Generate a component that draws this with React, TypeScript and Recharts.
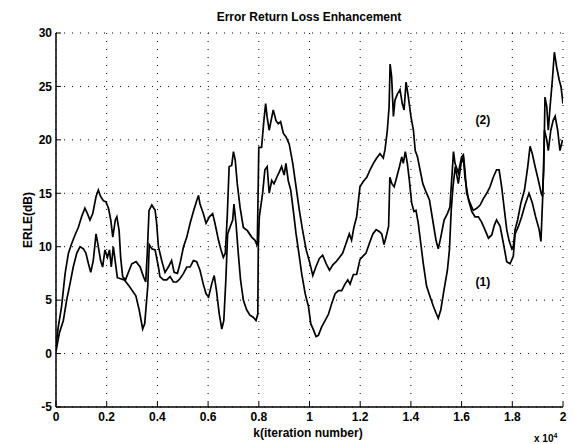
import { LineChart, Line, XAxis, YAxis, CartesianGrid, ReferenceDot } from "recharts";

// k in units of 10^4 iterations, ERLE in dB
const kA = [
  0, 0.009, 0.022, 0.036, 0.049, 0.062, 0.075, 0.088, 0.101, 0.114, 0.124, 0.134, 0.145, 0.158, 0.167, 0.176,
  0.187, 0.197, 0.207, 0.216, 0.224, 0.234, 0.24, 0.249, 0.255, 0.263, 0.274, 0.284, 0.299, 0.316, 0.332, 0.345,
  0.354, 0.36, 0.367, 0.378, 0.391, 0.397, 0.404, 0.417, 0.43, 0.443, 0.456, 0.466, 0.479, 0.489, 0.503, 0.516,
  0.529, 0.542, 0.555, 0.562, 0.568, 0.581, 0.592, 0.605, 0.618, 0.627, 0.641, 0.651, 0.66, 0.668, 0.676, 0.683,
  0.693, 0.7, 0.707, 0.715, 0.726, 0.739, 0.755, 0.772, 0.785, 0.794, 0.798, 0.8, 0.811, 0.82, 0.827, 0.833,
  0.841, 0.851, 0.857, 0.868, 0.877, 0.886, 0.897, 0.907, 0.92, 0.934, 0.947, 0.96, 0.973, 0.987, 1.0, 1.013,
  1.025, 1.039, 1.052, 1.066, 1.079, 1.092, 1.105, 1.118, 1.131, 1.144, 1.157, 1.166, 1.175, 1.186, 1.199, 1.212,
  1.226, 1.239, 1.252, 1.265, 1.278, 1.291, 1.298, 1.307, 1.314, 1.318, 1.324, 1.331, 1.337, 1.347, 1.357, 1.366,
  1.373, 1.381, 1.39, 1.4, 1.41, 1.417, 1.426, 1.436, 1.447, 1.46, 1.473, 1.486, 1.499, 1.508, 1.518, 1.531,
  1.544, 1.554, 1.561, 1.568, 1.574, 1.587, 1.6, 1.607, 1.613, 1.62, 1.633, 1.646, 1.66, 1.673, 1.686, 1.699,
  1.712, 1.725, 1.738, 1.748, 1.758, 1.769, 1.778, 1.787, 1.798, 1.804, 1.811, 1.821, 1.834, 1.848, 1.861, 1.87,
  1.879, 1.89, 1.903, 1.914, 1.919, 1.924, 1.929, 1.936, 1.942, 1.949, 1.958, 1.966, 1.975, 1.985, 1.992, 2.0,
];
const erleA = [
  0.8, 2.5, 4.4, 7.5, 9.4, 10.3, 11.1, 11.8, 12.8, 13.6, 13.1, 12.5, 13.1, 14.7, 15.3, 14.7,
  14.3, 14.2, 13.6, 12.5, 10.9, 12.5, 12.8, 11.5, 9, 7.2, 6.9, 7.5, 8.4, 8.6, 8.1, 7.2,
  6.7, 9.4, 13.4, 13.9, 13.4, 12.2, 10, 8.7, 7.6, 8.1, 8.7, 7.6, 7.5, 8.4, 10, 10.9,
  12.2, 13.3, 14.3, 14.8, 14, 13.1, 12.2, 12.8, 13.1, 12.2, 10.6, 9.7, 9, 9.4, 13.1, 17.5,
  17.6, 18.9, 18.1, 15.9, 13.7, 11.8, 11.5, 10.9, 10.6, 10.1, 16.2, 19.3, 19.3, 21.8, 23.4, 22.1,
  20.9, 22.1, 22.8, 21.8, 21.5, 21.7, 20.6, 20.3, 19.6, 17.8, 15.6, 13.4, 11.5, 9.7, 8.6, 7.3,
  8.1, 8.9, 9.2, 8.4, 7.8, 8.3, 8.6, 9, 9.4, 10.3, 11.2, 10.6, 11.8, 12.8, 15.6, 16.1,
  16.5, 17.2, 17.8, 18.3, 18.7, 18.3, 19.1, 20.9, 23.1, 27.1, 25.9, 22.2, 23.7, 24.3, 24.7, 23.4,
  22.8, 25.4, 24, 22.2, 20.9, 19, 18.4, 17.2, 15.9, 15.1, 14.4, 12.5, 10.6, 9.8, 10.9, 12.5,
  13.1, 13.7, 16.3, 18.9, 17.8, 16.9, 18.4, 18.6, 17.2, 15, 14.1, 13.4, 13.6, 13.9, 14.5, 15,
  15.6, 16.5, 17.2, 17.2, 15.6, 13.4, 11.6, 10.6, 9.8, 10, 11.6, 12.5, 14.1, 15.3, 17.5, 19.4,
  18.7, 17.5, 16.2, 15, 14.7, 17.2, 24, 23.1, 20.9, 23.1, 25.6, 28.2, 26.8, 25.6, 25, 23.4,
];

const kB = [
  0, 0.003, 0.013, 0.029, 0.042, 0.055, 0.068, 0.082, 0.095, 0.108, 0.118, 0.128, 0.137, 0.147, 0.158, 0.167,
  0.176, 0.184, 0.193, 0.203, 0.211, 0.218, 0.226, 0.235, 0.242, 0.269, 0.289, 0.315, 0.328, 0.342, 0.35, 0.362,
  0.368, 0.378, 0.391, 0.404, 0.41, 0.424, 0.437, 0.45, 0.463, 0.476, 0.489, 0.503, 0.516, 0.529, 0.542, 0.555,
  0.568, 0.581, 0.592, 0.602, 0.614, 0.624, 0.633, 0.644, 0.654, 0.662, 0.67, 0.677, 0.686, 0.697, 0.702, 0.71,
  0.719, 0.728, 0.739, 0.752, 0.765, 0.778, 0.789, 0.796, 0.798, 0.802, 0.815, 0.824, 0.833, 0.841, 0.851, 0.86,
  0.871, 0.881, 0.89, 0.9, 0.907, 0.916, 0.926, 0.936, 0.947, 0.958, 0.969, 0.983, 0.996, 1.005, 1.016, 1.026,
  1.035, 1.048, 1.062, 1.075, 1.088, 1.101, 1.114, 1.127, 1.14, 1.151, 1.16, 1.173, 1.186, 1.199, 1.21, 1.223,
  1.236, 1.25, 1.263, 1.276, 1.285, 1.294, 1.302, 1.312, 1.317, 1.325, 1.334, 1.344, 1.355, 1.364, 1.37, 1.378,
  1.386, 1.394, 1.403, 1.412, 1.42, 1.429, 1.439, 1.449, 1.462, 1.476, 1.489, 1.499, 1.508, 1.518, 1.531, 1.544,
  1.552, 1.559, 1.566, 1.575, 1.587, 1.598, 1.607, 1.613, 1.627, 1.64, 1.653, 1.666, 1.679, 1.692, 1.706, 1.719,
  1.729, 1.738, 1.752, 1.765, 1.778, 1.791, 1.804, 1.811, 1.824, 1.837, 1.85, 1.866, 1.879, 1.892, 1.906, 1.913,
  1.92, 1.927, 1.936, 1.942, 1.952, 1.961, 1.969, 1.979, 1.988, 1.998,
];
const erleB = [
  0.2, 0.6, 1.9, 3.1, 5, 6.5, 8.1, 9.4, 10, 9.8, 9.4, 8.4, 7.6, 8.7, 11.2, 10,
  8.7, 8.1, 9.7, 9, 9.7, 8.1, 10, 8.4, 7.1, 6.9, 6.3, 5.4, 4.1, 2.3, 2.8, 6.3,
  10.2, 9.8, 9.7, 8.1, 7.2, 6.9, 6.9, 7.2, 6.7, 6.7, 7, 7.5, 8.1, 8.1, 8.7, 8.6,
  7.8, 6.5, 5.6, 5.3, 6.5, 7.3, 5.9, 3.7, 2.3, 3.1, 6.9, 11.2, 11.8, 12.5, 14, 12.2,
  9.4, 6.9, 5, 4.1, 3.6, 3.4, 3.1, 3.7, 10, 12.8, 15, 17.2, 17.5, 15, 16.2, 15.9,
  16.5, 17, 17.5, 16.7, 17.8, 16.2, 15.3, 13.4, 11.2, 9.4, 7.5, 5.6, 4.4, 2.8, 2.2, 1.6,
  1.7, 2.5, 3.1, 3.7, 4.7, 5.6, 5.9, 5.9, 6.5, 6.9, 6.5, 7.4, 7.4, 8.8, 9.1, 9.4,
  10.3, 11.2, 11.6, 11.4, 11.2, 10.2, 10.9, 11.9, 16.5, 15.9, 15.6, 16.5, 17.5, 18.4, 17.8, 18.9,
  17.8, 16.2, 14.1, 13.3, 13.4, 12.2, 10.3, 8.4, 6.3, 5.3, 4.4, 3.8, 3.3, 4.1, 6, 7.8,
  9.7, 13.4, 15.6, 17.5, 15.9, 17.8, 18.4, 16.5, 14.4, 13.3, 12.8, 12.8, 12.3, 11.6, 10.8, 11.1,
  12, 12.5, 11.9, 10.3, 8.6, 8.4, 9.1, 11.2, 11.9, 12.8, 13.9, 15, 14.1, 12.8, 11.6, 10.5,
  14.7, 20.9, 20, 19, 20.9, 21.8, 22.2, 20.9, 19, 20,
];

const xTicks = [0, 0.2, 0.4, 0.6, 0.8, 1, 1.2, 1.4, 1.6, 1.8, 2];
const yTicks = [-5, 0, 5, 10, 15, 20, 25, 30];

const tickStyle = { fill: "#000", fontSize: 12, fontWeight: 700 };
const axisStroke = { stroke: "#000", strokeWidth: 1.5 };

export default function App() {
  const curveA = kA.map((k, i) => ({ k, erle: erleA[i] }));
  const curveB = kB.map((k, i) => ({ k, erle: erleB[i] }));

  return (
    <div
      style={{
        position: "absolute",
        left: 0,
        top: 0,
        width: 574,
        height: 444,
        background: "#fff",
        fontFamily: "'Liberation Sans', Arial, sans-serif",
      }}
    >
      <div
        style={{
          position: "absolute",
          top: 10,
          left: 0,
          width: 618,
          textAlign: "center",
          fontSize: 12,
          fontWeight: 700,
          lineHeight: "14px",
        }}
      >
        Error Return Loss Enhancement
      </div>
      <div
        style={{
          position: "absolute",
          left: 28 - 40,
          top: 220 - 7,
          width: 80,
          textAlign: "center",
          fontSize: 12,
          fontWeight: 700,
          lineHeight: "14px",
          transform: "rotate(-90deg)",
        }}
      >
        ERLE(dB)
      </div>
      <div
        style={{
          position: "absolute",
          left: 208,
          top: 426,
          width: 200,
          textAlign: "center",
          fontSize: 12,
          fontWeight: 700,
          lineHeight: "14px",
        }}
      >
        k(iteration number)
      </div>
      <div
        style={{
          position: "absolute",
          left: 534,
          top: 430,
          fontSize: 10,
          fontWeight: 700,
          lineHeight: "12px",
          whiteSpace: "nowrap",
        }}
      >
        x 10<sup style={{ fontSize: 7 }}>4</sup>
      </div>

      <LineChart width={574} height={444} margin={{ top: 33, right: 11, bottom: 0, left: 0 }}>
        <CartesianGrid stroke="#000" strokeWidth={1} strokeDasharray="1 7" />
        <XAxis
          dataKey="k"
          type="number"
          domain={[0, 2]}
          ticks={xTicks}
          height={37}
          tick={tickStyle}
          tickSize={-5}
          tickMargin={10}
          axisLine={axisStroke}
          tickLine={{ stroke: "#000" }}
          allowDataOverflow
        />
        <XAxis
          xAxisId="top"
          orientation="top"
          type="number"
          domain={[0, 2]}
          ticks={xTicks}
          height={0}
          tick={false}
          tickSize={-5}
          axisLine={axisStroke}
          tickLine={{ stroke: "#000" }}
        />
        <YAxis
          type="number"
          domain={[-5, 30]}
          ticks={yTicks}
          width={56}
          tick={tickStyle}
          tickSize={-5}
          tickMargin={9}
          axisLine={axisStroke}
          tickLine={{ stroke: "#000" }}
          allowDataOverflow
        />
        <YAxis
          yAxisId="right"
          orientation="right"
          type="number"
          domain={[-5, 30]}
          ticks={yTicks}
          width={0}
          tick={false}
          tickSize={-5}
          axisLine={axisStroke}
          tickLine={{ stroke: "#000" }}
        />
        <Line
          data={curveA}
          dataKey="erle"
          type="linear"
          stroke="#000"
          strokeWidth={1.7}
          dot={false}
          isAnimationActive={false}
        />
        <Line
          data={curveB}
          dataKey="erle"
          type="linear"
          stroke="#000"
          strokeWidth={1.7}
          dot={false}
          isAnimationActive={false}
        />
        <ReferenceDot
          x={1.684}
          y={21.9}
          r={1}
          fill="none"
          stroke="none"
          label={{ value: "(2)", position: "center", fill: "#000", fontSize: 12, fontWeight: 700 }}
        />
        <ReferenceDot
          x={1.684}
          y={6.7}
          r={1}
          fill="none"
          stroke="none"
          label={{ value: "(1)", position: "center", fill: "#000", fontSize: 12, fontWeight: 700 }}
        />
      </LineChart>
    </div>
  );
}
